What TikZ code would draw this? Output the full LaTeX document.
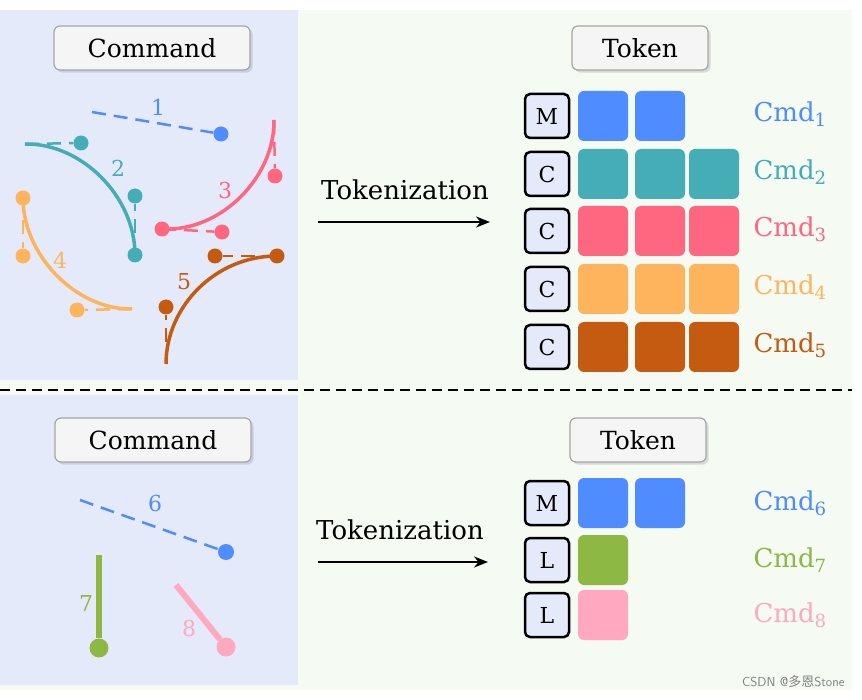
\documentclass[tikz,border=0pt]{standalone}
\usepackage{fontspec}
\setmainfont{DejaVu Serif}
\newfontfamily\cjk{Noto Sans CJK SC}
\usetikzlibrary{shadows,arrows.meta}
\definecolor{cB}{HTML}{4F8CFF}\definecolor{cT}{HTML}{45ADB5}\definecolor{cP}{HTML}{FF6680}
\definecolor{cO}{HTML}{FDB45C}\definecolor{cD}{HTML}{C55A11}\definecolor{cG}{HTML}{8DB843}
\definecolor{cL}{HTML}{FFA8C0}\definecolor{bgB}{HTML}{E5EAFB}\definecolor{bgG}{HTML}{F5FAF2}
\begin{document}
\begin{tikzpicture}[x=1pt,y=-1pt,
 title/.style={draw=gray!70,fill=gray!8,rounded corners=6pt,line width=1.2pt,minimum height=44pt,font=\fontsize{25}{28}\selectfont,drop shadow={opacity=0.25}},
 lt/.style={draw=black,fill=bgB,rounded corners=5pt,line width=2.5pt,minimum width=44pt,minimum height=44pt,inner sep=0pt,font=\fontsize{22}{24}\selectfont},
 sq/.style={fill=#1,rounded corners=6pt,minimum width=50pt,minimum height=50pt},
 dot/.style={circle,fill=#1,inner sep=0pt,minimum size=15pt},
 hd/.style={line width=2.5pt,dash pattern=on 14pt off 8pt},
 cur/.style={line width=3.5pt},
 num/.style={font=\fontsize{22}{24}\selectfont},
 cmd/.style={font=\fontsize{26}{28}\selectfont,anchor=west},
 arr/.style={-{Stealth[length=14pt,width=11pt]},line width=2pt}]
\useasboundingbox (0,0) rectangle (862,700);
\fill[white] (0,0) rectangle (862,700);
\fill[bgG] (0,10) rectangle (852,690);
\fill[bgB] (0,10) rectangle (298,380);
\fill[bgB] (0,395) rectangle (298,685);
\draw[line width=1.5pt,dash pattern=on 10pt off 6pt] (0,390) -- (852,390);
% titles
\node[title,minimum width=196pt] (c1) at (152,48) {Command};
\node[title,minimum width=136pt] (t1) at (640,48) {Token};
\node[title,minimum width=196pt] (c2) at (153,440) {Command};
\node[title,minimum width=136pt] (t2) at (638,440) {Token};
% curve 1
\node[dot=cB] (d1) at (221,134) {};
\coordinate (s1) at (92,112);
\draw[cB,hd] (s1) -- (d1);
\node[num,text=cB] at (158,107) {1};
% curve 2
\coordinate (s2) at (25,144); \coordinate (e2) at (135,255);
\node[dot=cT] (h2a) at (81,143) {}; \node[dot=cT] (h2b) at (135,196) {}; \node[dot=cT] (d2) at (135,255) {};
\draw[cT,hd] (s2) -- (h2a); \draw[cT,hd] (e2) -- (h2b);
\draw[cT,cur] (s2) .. controls (81,143) and (135,196) .. (e2);
\node[num,text=cT] at (118,168) {2};
% curve 3
\coordinate (s3) at (274,120); \coordinate (e3) at (162,229);
\node[dot=cP] (h3a) at (275,176) {}; \node[dot=cP] (h3b) at (222,232) {}; \node[dot=cP] (d3) at (162,229) {};
\draw[cP,hd] (s3) -- (h3a); \draw[cP,hd] (e3) -- (h3b);
\draw[cP,cur] (s3) .. controls (275,176) and (222,232) .. (e3);
\node[num,text=cP] at (225,190) {3};
% curve 4
\coordinate (s4) at (23,198); \coordinate (e4) at (132,309);
\node[dot=cO] (d4) at (23,198) {}; \node[dot=cO] (h4a) at (23,256) {}; \node[dot=cO] (h4b) at (77,310) {};
\draw[cO,hd] (s4) -- (h4a); \draw[cO,hd] (e4) -- (h4b);
\draw[cO,cur] (s4) .. controls (23,256) and (77,310) .. (e4);
\node[num,text=cO] at (60,260) {4};
% curve 5
\coordinate (s5) at (166,364); \coordinate (e5) at (277,256);
\node[dot=cD] (h5a) at (166,307) {}; \node[dot=cD] (h5b) at (215,256) {}; \node[dot=cD] (d5) at (277,256) {};
\draw[cD,hd] (s5) -- (h5a); \draw[cD,hd] (e5) -- (h5b);
\draw[cD,cur] (s5) .. controls (166,307) and (215,256) .. (e5);
\node[num,text=cD] at (184,282) {5};
% bottom
\node[dot=cB,minimum size=16pt] (d6) at (226,552) {}; \coordinate (s6) at (80,500);
\draw[cB,hd] (s6) -- (d6);
\node[num,text=cB] at (155,503) {6};
\node[dot=cG,minimum size=19pt] (d7) at (99,648) {}; \coordinate (s7) at (99,555);
\draw[cG,line width=6pt] (s7) -- (d7);
\node[num,text=cG] at (86,603) {7};
\node[dot=cL,minimum size=19pt] (d8) at (226,647) {}; \coordinate (s8) at (176,585);
\draw[cL,line width=6pt] (s8) -- (d8);
\node[num,text=cL] at (189,628) {8};
% tokenization
\node[font=\fontsize{26}{28}\selectfont] at (405,190) {Tokenization};
\coordinate (a1) at (318,222); \coordinate (b1) at (490,222);
\draw[arr] (a1) -- (b1);
\node[font=\fontsize{26}{28}\selectfont] at (400,530) {Tokenization};
\coordinate (a2) at (318,562); \coordinate (b2) at (488,562);
\draw[arr] (a2) -- (b2);
% token grid top
\node[lt] (m1) at (547,116) {M};
\node[sq=cB] at (603,116) {}; \node[sq=cB] at (660,116) {};
\node[cmd,text=cB] at (750,114) {Cmd\textsubscript{1}};
\foreach \y/\c/\n in {174/cT/2,231/cP/3,289/cO/4,347/cD/5}{
 \node[lt] at (547,\y) {C};
 \node[sq=\c] at (603,\y) {}; \node[sq=\c] at (660,\y) {}; \node[sq=\c] at (714,\y) {};
 \node[cmd,text=\c] at (750,\y-2) {Cmd\textsubscript{\n}};
}
% bottom grid
\node[lt] at (547,503) {M};
\node[sq=cB] at (603,503) {}; \node[sq=cB] at (660,503) {};
\node[cmd,text=cB] at (750,503) {Cmd\textsubscript{6}};
\node[lt] at (547,560) {L}; \node[sq=cG] at (603,560) {};
\node[cmd,text=cG] at (750,560) {Cmd\textsubscript{7}};
\node[lt] at (547,615) {L}; \node[sq=cL] at (603,615) {};
\node[cmd,text=cL] at (750,615) {Cmd\textsubscript{8}};
\node[text=gray,font=\sffamily\fontsize{13}{14}\selectfont,anchor=east] at (848,682) {CSDN @{\cjk 多恩}Stone};
\end{tikzpicture}
\end{document}
